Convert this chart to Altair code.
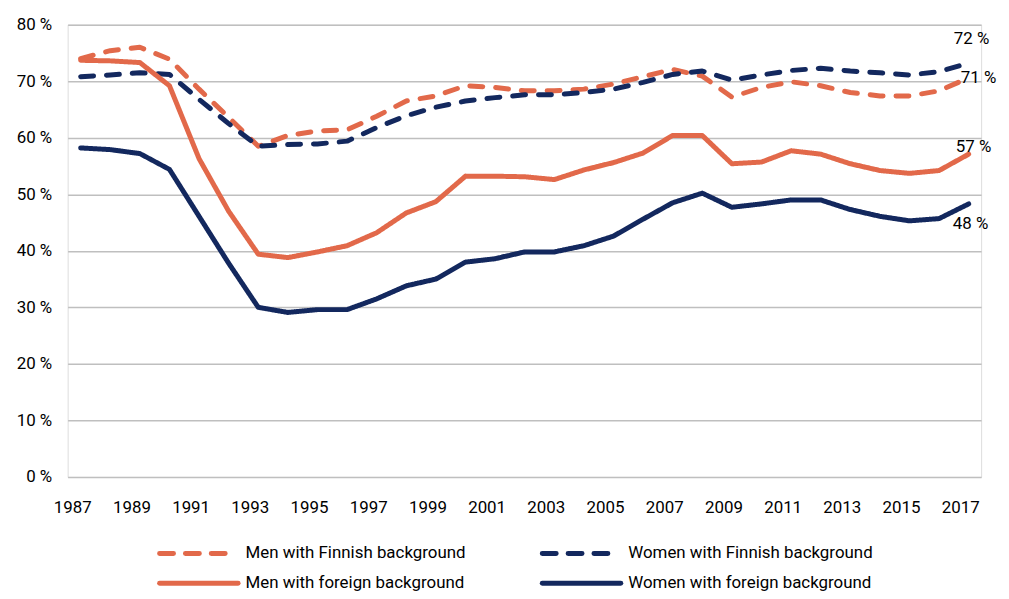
import altair as alt
import pandas as pd

years = list(range(1987, 2018))

men_finnish = [74.0, 75.4, 76.0, 73.9, 68.6, 63.6, 58.5, 60.4, 61.2, 61.4,
               63.8, 66.5, 67.4, 69.2, 68.9, 68.3, 68.3, 68.6, 69.5, 70.8,
               72.1, 70.9, 67.2, 68.9, 69.9, 69.2, 68.0, 67.4, 67.4, 68.3, 70.6]
women_finnish = [70.8, 71.1, 71.5, 71.2, 66.8, 62.5, 58.5, 58.8, 58.9, 59.4,
                 61.8, 63.9, 65.4, 66.5, 67.1, 67.6, 67.6, 68.0, 68.6, 69.8,
                 71.2, 71.8, 70.2, 71.1, 71.9, 72.3, 71.8, 71.5, 71.1, 71.7, 73.2]
men_foreign = [73.7, 73.6, 73.3, 69.2, 56.3, 47.0, 39.4, 38.8, 39.8, 40.9,
               43.2, 46.7, 48.7, 53.2, 53.2, 53.1, 52.6, 54.3, 55.6, 57.3,
               60.4, 60.4, 55.4, 55.7, 57.7, 57.1, 55.4, 54.2, 53.7, 54.2, 57.1]
women_foreign = [58.2, 57.9, 57.2, 54.4, 46.1, 37.8, 30.0, 29.1, 29.6, 29.6,
                 31.5, 33.8, 35.0, 38.0, 38.6, 39.8, 39.8, 40.9, 42.6, 45.6,
                 48.5, 50.2, 47.7, 48.3, 49.0, 49.0, 47.3, 46.1, 45.3, 45.7, 48.3]

series_names = ["Men with Finnish background", "Women with Finnish background",
                "Men with foreign background", "Women with foreign background"]
series_colors = ["#E2694A", "#13285E", "#E2694A", "#13285E"]
series_dashes = [[13, 13], [13, 13], [1, 0], [1, 0]]
end_labels = ["71 %", "72 %", "57 %", "48 %"]

series_values = [men_finnish, women_finnish, men_foreign, women_foreign]

rows = []
for name, vals in zip(series_names, series_values):
    for yr, v in zip(years, vals):
        rows.append({"year": yr, "value": v, "series": name})
df = pd.DataFrame(rows)

end_df = pd.DataFrame({
    "year": [years[-1]] * 4,
    "value": [vals[-1] for vals in series_values],
    "series": series_names,
    "label": end_labels,
})

FONT = "Roboto"

x_enc = alt.X("year:Q",
              scale=alt.Scale(domain=[1986.56, 2017.42], nice=False, zero=False),
              axis=alt.Axis(values=list(range(1987, 2018, 2)), format="d", title=None,
                            grid=False, domain=False, ticks=False, labelPadding=31,
                            translate=-8, labelFontSize=17, labelFont=FONT,
                            labelColor="#000000"))
y_enc = alt.Y("value:Q",
              scale=alt.Scale(domain=[0, 80], nice=False),
              axis=alt.Axis(values=list(range(0, 81, 10)), title=None,
                            labelExpr="datum.value + ' %'",
                            grid=True, gridColor="#BFBFBF", gridWidth=1.5,
                            domain=False, ticks=False, labelPadding=16,
                            labelFontSize=17, labelFont=FONT, labelColor="#000000"))

lines = alt.Chart(df).mark_line(strokeWidth=5, strokeCap="round", strokeJoin="round").encode(
    x=x_enc,
    y=y_enc,
    color=alt.Color("series:N", sort=series_names,
                    scale=alt.Scale(domain=series_names, range=series_colors),
                    legend=None),
    strokeDash=alt.StrokeDash("series:N", sort=series_names,
                              scale=alt.Scale(domain=series_names, range=series_dashes),
                              legend=None),
)

label_dx = [-8, -15, -13, -16]
label_dy = [0, -24, -7, 20]

text_layers = []
for name, dx, dy in zip(series_names, label_dx, label_dy):
    t = alt.Chart(end_df).transform_filter(alt.datum.series == name).mark_text(
        align="left", baseline="middle", dx=dx, dy=dy, fontSize=17, font=FONT,
        color="#000000").encode(x="year:Q", y="value:Q", text="label:N")
    text_layers.append(t)

# Legend drawn as a 2x2 key below the plot (pixel positions relative to plot area)
leg_col_x = [90, 475]       # symbol start per column
leg_row_y = [532, 562]      # row centre per row
leg_sym_len = 84
legend_layers = []
for i, (name, col, dash) in enumerate(zip(series_names, series_colors, series_dashes)):
    cx = leg_col_x[i % 2]
    ry = leg_row_y[i // 2]
    leg_df = pd.DataFrame({"label": [name]})
    if dash == [1, 0]:
        sym = alt.Chart(leg_df).mark_rule(strokeWidth=5, strokeCap="round", color=col).encode(
            x=alt.value(cx + 2.5), x2=alt.value(cx + leg_sym_len - 2.5), y=alt.value(ry))
    else:
        sym = alt.Chart(leg_df).mark_rule(strokeWidth=5, strokeCap="round", color=col,
                                          strokeDash=[14, 12]).encode(
            x=alt.value(cx + 2.5), x2=alt.value(cx + 72), y=alt.value(ry))
    txt = alt.Chart(leg_df).mark_text(align="left", baseline="middle", fontSize=17,
                                      font=FONT, color="#000000").encode(
        x=alt.value(cx + leg_sym_len + 5), y=alt.value(ry), text="label:N")
    legend_layers += [sym, txt]

chart = alt.layer(lines, *text_layers, *legend_layers).properties(
    width=919, height=455,
    autosize=alt.AutoSizeParams(type="none"),
    padding={"left": 60, "top": 15, "right": 20, "bottom": 121},
).configure_view(stroke=None).configure(background="#FFFFFF")

chart.save("out.html", embed_options={"renderer": "svg", "actions": False})
